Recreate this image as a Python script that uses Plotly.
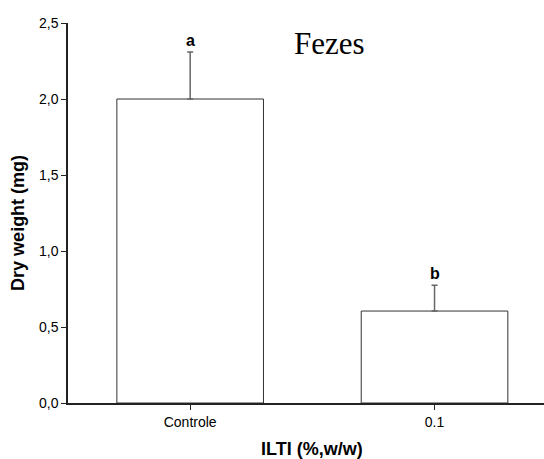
import plotly.graph_objects as go

categories = ["Controle", "0.1"]
values = [2.0, 0.605]
errors = [0.31, 0.17]
letters = ["a", "b"]
y_ticks = [0, 0.5, 1.0, 1.5, 2.0, 2.5]
y_tick_labels = ["0,0", "0,5", "1,0", "1,5", "2,0", "2,5"]

fig = go.Figure()
fig.add_trace(go.Bar(
    x=[0, 1], y=values, width=0.6,
    marker=dict(color="white", line=dict(color="#333333", width=1)),
    error_y=dict(type="data", array=errors, arrayminus=[0, 0], symmetric=False,
                 color="#666666", thickness=1.5, width=3),
    showlegend=False,
))

for i, (v, e, l) in enumerate(zip(values, errors, letters)):
    fig.add_annotation(x=i, y=v + e, text="<b>%s</b>" % l, showarrow=False,
                       yanchor="bottom", yshift=1,
                       font=dict(family="Liberation Sans", size=16, color="black"))

fig.add_annotation(x=0.55, y=0.947, xref="paper", yref="paper", text="Fezes",
                   showarrow=False, xanchor="center", yanchor="middle",
                   font=dict(family="Liberation Serif", size=31, color="black"))

fig.add_annotation(x=0.5126, y=-0.121, xref="paper", yref="paper",
                   text="<b>ILTI (%,w/w)</b>", showarrow=False,
                   xanchor="center", yanchor="middle",
                   font=dict(family="Liberation Sans", size=18, color="black"))
fig.add_annotation(x=-0.105, y=0.474, xref="paper", yref="paper",
                   text="<b>Dry weight (mg)</b>", showarrow=False, textangle=-90,
                   xanchor="center", yanchor="middle",
                   font=dict(family="Liberation Sans", size=18, color="black"))

fig.update_layout(
    width=544, height=459,
    margin=dict(l=68, r=0, t=23, b=56),
    plot_bgcolor="white", paper_bgcolor="white",
    font=dict(family="Liberation Sans", size=14, color="black"),
    xaxis=dict(range=[-0.5, 1.448], tickvals=[0, 1], ticktext=categories,
               tickfont=dict(size=14),
               showline=True, linecolor="#222222", linewidth=1.5,
               ticks="outside", ticklen=5, tickcolor="#222222",
               showgrid=False, zeroline=False),
    yaxis=dict(range=[0, 2.5], tickvals=y_ticks, ticktext=y_tick_labels,
               tickfont=dict(size=14),
               showline=True, linecolor="#222222", linewidth=1.5,
               ticks="outside", ticklen=5, tickcolor="#222222",
               showgrid=False, zeroline=False),
)

fig.write_html("out.html")
